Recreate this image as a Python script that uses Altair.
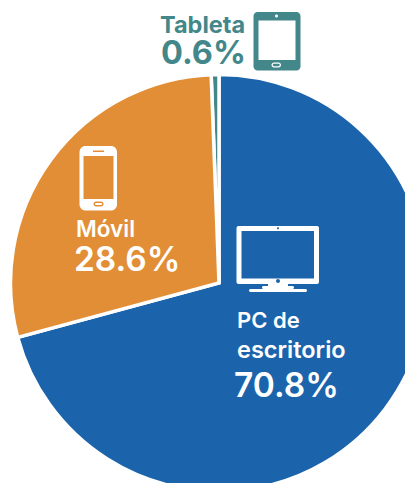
import altair as alt
import pandas as pd

categories = ["PC de escritorio", "Tableta", "Móvil"]
shares = [70.8, 0.6, 28.6]
order = [1, 3, 2]
colors = ["#1B64AB", "#44878A", "#E28E36"]
BLUE, TEAL, ORANGE = colors
FONT = "Inter"
W, H = 397, 475
CX, CY, R = 219, 283, 208.5


def px(v):
    return alt.value(v - 8)


one = pd.DataFrame({"a": [0]})


def box(x0, y0, x1, y1, color, r=0):
    kw = {"cornerRadius": r} if r else {}
    return alt.Chart(one).mark_rect(color=color, **kw).encode(
        x=px(x0), x2=px(x1), y=px(y0), y2=px(y1))


def label(text, x, y, size, color, weight=500):
    return alt.Chart(one).mark_text(
        text=text, align="left", baseline="alphabetic", font=FONT,
        fontSize=size, fontWeight=weight, color=color
    ).encode(x=px(x), y=px(y))


pie = alt.Chart(pd.DataFrame({"cat": categories, "share": shares, "ord": order})).mark_arc(
    outerRadius=R, stroke="white", strokeWidth=3.5, clip=True
).encode(
    theta=alt.Theta("share:Q", stack=True),
    order=alt.Order("ord:Q"),
    color=alt.Color("cat:N", scale=alt.Scale(domain=categories, range=colors), legend=None),
    x=px(CX), y=px(CY),
)

layers = [
    pie,
    # tablet
    box(253.5, 12, 300.5, 70.5, TEAL, 4),
    box(258.5, 20.5, 295.5, 60, "white"),
    box(275, 14.5, 278, 17.5, "white", 1.5),
    box(271.5, 62.5, 281, 67.5, "white", 2.5),
    box(272.8, 63.8, 279.7, 66.2, TEAL, 1.2),
    # phone
    box(79.5, 146, 117, 210.5, "white", 6),
    box(83.5, 156, 113.5, 199, ORANGE),
    box(93, 150.5, 104, 152, ORANGE),
    box(93.5, 201.5, 103.5, 206.5, ORANGE, 2.5),
    box(95, 203, 102, 205, "white", 1),
    # monitor
    box(236.5, 226, 319, 284, "white", 2),
    box(241.5, 231, 314, 278.5, BLUE),
    box(277, 227.3, 279, 229.3, BLUE, 1),
    box(276, 279, 280, 283, BLUE, 2),
    box(268, 284, 288, 288, "white"),
    box(262, 286, 294, 289, "white", 1.5),
    box(249, 289, 307, 292, "white", 1.5),
    # text
    label("Tableta", 160, 33, 23.5, TEAL, 700),
    label("0.6%", 161, 64, 32.5, TEAL, 700),
    label("Móvil", 76, 237, 22.5, "white", 600),
    label("28.6%", 74, 271, 33.5, "white", 600),
    label("PC de", 237, 328, 22, "white", 600),
    label("escritorio", 237, 358, 23.5, "white", 600),
    label("70.8%", 234, 397, 33.5, "white", 600),
]

chart = alt.layer(*layers).properties(
    width=W, height=H, padding=0,
    autosize=alt.AutoSizeParams(type="none"),
    background="white",
).configure_view(stroke=None)

chart.save("out.html", embed_options={"renderer": "svg", "actions": False})
